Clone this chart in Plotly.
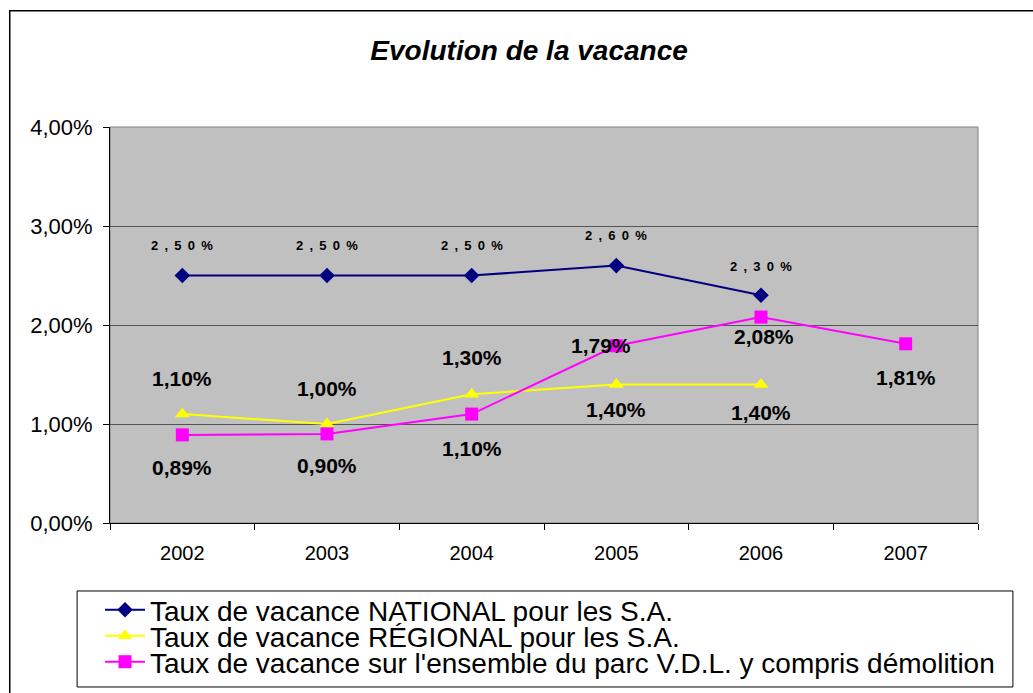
import plotly.graph_objects as go

years = ["2002", "2003", "2004", "2005", "2006", "2007"]
national = [2.50, 2.50, 2.50, 2.60, 2.30, None]
regional = [1.10, 1.00, 1.30, 1.40, 1.40, None]
vdl = [0.89, 0.90, 1.10, 1.79, 2.08, 1.81]

names = [
    "Taux de vacance NATIONAL pour les S.A.",
    "Taux de vacance RÉGIONAL pour les S.A.",
    "Taux de vacance sur l'ensemble du parc V.D.L. y compris démolition",
]
ytickvals = [0, 1, 2, 3, 4]
yticktext = ["0,00%", "1,00%", "2,00%", "3,00%", "4,00%"]

# label offsets (pixels) for each series
nat_shift = [30, 30, 30, 30, 29, 0]
reg_shift = [36, 36, 37, -25, -28, 0]
vdl_shift = [-33, -32, -34, 0, -19, -34]
vdl_xshift = [0, 0, 0, -15, 3, 0]

fig = go.Figure()
fig.add_trace(go.Scatter(x=years, y=national, name=names[0], mode="lines+markers", legend="legend",
                         line=dict(color="#000080", width=2),
                         marker=dict(symbol="diamond", size=12, color="#000080")))
fig.add_trace(go.Scatter(x=years, y=regional, name=names[1], mode="lines+markers", legend="legend2",
                         line=dict(color="#FFFF00", width=2),
                         marker=dict(symbol="triangle-up", size=13, color="#FFFF00")))
fig.add_trace(go.Scatter(x=years, y=vdl, name=names[2], mode="lines+markers", legend="legend3",
                         line=dict(color="#FF00FF", width=2),
                         marker=dict(symbol="square", size=13, color="#FF00FF")))

def fmt(v):
    return f"{v:.2f}".replace(".", ",") + "%"

def spaced(s):
    return "&nbsp;&#8201;".join(s)

ann = []
for i, v in enumerate(national):
    if v is not None:
        ann.append(dict(x=i, y=v, xref="x", yref="y", text="<b>" + spaced(fmt(v)) + "</b>", showarrow=False,
                        yshift=nat_shift[i], font=dict(size=13, color="black", family="Liberation Sans")))
for i, v in enumerate(regional):
    if v is not None:
        ann.append(dict(x=i, y=v, xref="x", yref="y", text="<b>" + fmt(v) + "</b>", showarrow=False,
                        yshift=reg_shift[i], font=dict(size=21, color="black", family="Liberation Sans")))
for i, v in enumerate(vdl):
    ann.append(dict(x=i, y=v, xref="x", yref="y", text="<b>" + fmt(v) + "</b>", showarrow=False,
                    yshift=vdl_shift[i], xshift=vdl_xshift[i],
                    font=dict(size=21, color="black", family="Liberation Sans")))

def leg(y):
    return dict(x=-0.0115, y=y, xanchor="left", yanchor="middle", borderwidth=0,
                bgcolor="rgba(0,0,0,0)", font=dict(size=28, color="black"), itemwidth=40)

fig.update_layout(
    width=1033, height=693,
    margin=dict(l=110, r=55, t=127, b=170, autoexpand=False),
    paper_bgcolor="white", plot_bgcolor="#C0C0C0",
    font=dict(family="Liberation Sans, Arial", color="black"),
    title=dict(text="<b><i>Evolution de la vacance</i></b>", x=0.4828, xref="paper", xanchor="center",
               y=1 - 50 / 693, yref="container", yanchor="middle",
               font=dict(size=28, color="black")),
    xaxis=dict(type="category", range=[-0.5, 5.5], showgrid=False, showline=True,
               linecolor="black", linewidth=1, ticks="outside", tickson="boundaries",
               ticklen=6, tickcolor="black", tickfont=dict(size=20), ticklabelstandoff=12),
    yaxis=dict(range=[0, 4], tickvals=ytickvals, ticktext=yticktext, showgrid=True,
               gridcolor="#555555", gridwidth=1, showline=True, linecolor="black", linewidth=1,
               ticks="outside", ticklen=6, tickcolor="black", tickfont=dict(size=22), zeroline=False,
               ticklabelstandoff=6),
    annotations=ann,
    showlegend=True,
    legend=leg(-0.2197),
    legend2=leg(-0.2854),
    legend3=leg(-0.3510),
    shapes=[
        dict(type="rect", xref="paper", yref="paper", x0=-0.1155, x1=1.08, y0=-0.45, y1=1.2937,
             line=dict(color="black", width=1.5), fillcolor="rgba(0,0,0,0)", layer="below"),
        dict(type="rect", xref="paper", yref="paper", x0=-0.0379, x1=1.0402, y0=-0.4141, y1=-0.1717,
             line=dict(color="black", width=1), fillcolor="white", layer="below"),
        dict(type="rect", xref="paper", yref="paper", x0=0, x1=1, y0=0, y1=1,
             line=dict(color="#808080", width=1), fillcolor="rgba(0,0,0,0)", layer="below"),
    ],
)

fig.write_html("out.html", config={"displayModeBar": False},
               post_script="document.body.style.margin='0';document.body.style.overflow='hidden';")
